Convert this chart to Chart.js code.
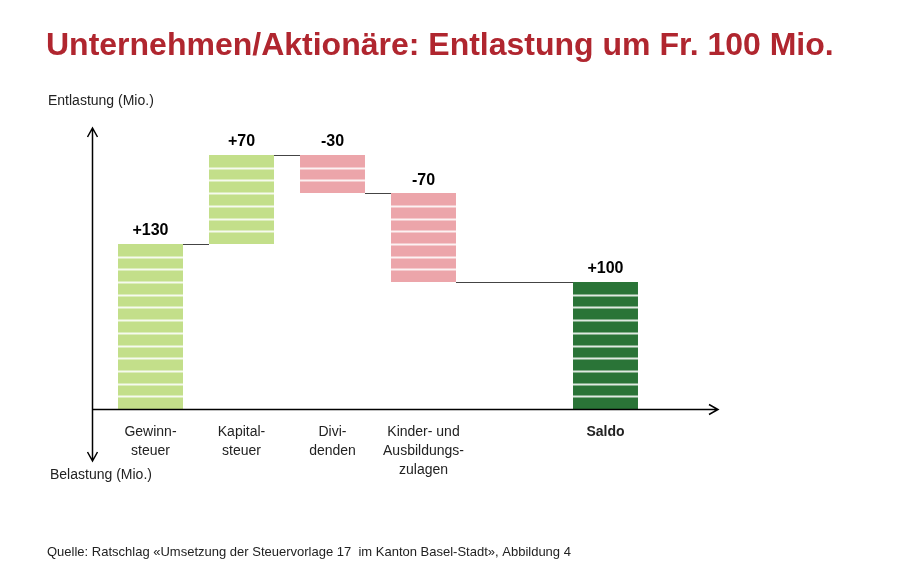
<!DOCTYPE html>
<html>
<head>
<meta charset="utf-8">
<script src="https://cdn.jsdelivr.net/npm/chart.js@4/dist/chart.umd.min.js"></script>
<style>
  html, body { margin: 0; padding: 0; background: #fff; }
  #wrap { width: 916px; height: 566px; position: relative; }
</style>
</head>
<body>
<div id="wrap"><canvas id="waterfallChart"></canvas></div>
<script>
// data
const categories = [['Gewinn-', 'steuer'], ['Kapital-', 'steuer'], ['Divi-', 'denden'], ['Kinder- und', 'Ausbildungs-', 'zulagen'], '', 'Saldo'];
const changes = [130, 70, -30, -70, null, 100];
const valueLabels = ['+130', '+70', '-30', '-70', '', '+100'];
const barColors = ['#c3df8a', '#c3df8a', '#eca5aa', '#eca5aa', null, '#2a7437'];
const stripeStep = 10;

// floating ranges built from the changes (saldo starts at 0)
const ranges = [];
let running = 0;
changes.forEach((v, i) => {
  if (v === null) { ranges.push(null); return; }
  if (categories[i] === 'Saldo') { ranges.push([0, v]); return; }
  ranges.push([running, running + v]);
  running += v;
});

const font = 'Liberation Sans, Arial, sans-serif';

const decor = {
  id: 'decor',
  afterDatasetsDraw(chart) {
    const ctx = chart.ctx;
    const y = chart.scales.y;
    const meta = chart.getDatasetMeta(0);
    const area = chart.chartArea;
    ctx.save();

    // white stripes inside the bars
    ctx.strokeStyle = 'rgba(255,255,255,0.85)';
    ctx.lineWidth = 2;
    meta.data.forEach((bar, i) => {
      const r = ranges[i];
      if (!r) return;
      const lo = Math.min(r[0], r[1]), hi = Math.max(r[0], r[1]);
      const left = bar.x - bar.width / 2, right = bar.x + bar.width / 2;
      for (let v = lo + stripeStep; v < hi; v += stripeStep) {
        const py = Math.round(y.getPixelForValue(v)) + 0.5;
        ctx.beginPath();
        ctx.moveTo(left, py);
        ctx.lineTo(right, py);
        ctx.stroke();
      }
    });

    // connector lines between the steps
    ctx.strokeStyle = '#444';
    ctx.lineWidth = 1;
    const shown = meta.data.map((b, i) => ranges[i] ? i : -1).filter(i => i >= 0);
    for (let k = 0; k < shown.length - 1; k++) {
      const a = shown[k], b = shown[k + 1];
      const level = ranges[a][1];
      const py = Math.round(y.getPixelForValue(level)) + 0.5;
      ctx.beginPath();
      ctx.moveTo(meta.data[a].x + meta.data[a].width / 2, py);
      ctx.lineTo(meta.data[b].x - meta.data[b].width / 2, py);
      ctx.stroke();
    }

    // value labels above bars
    ctx.fillStyle = '#000';
    ctx.textAlign = 'center';
    ctx.textBaseline = 'bottom';
    ctx.font = 'bold 16px ' + font;
    meta.data.forEach((bar, i) => {
      if (!ranges[i]) return;
      const top = Math.min(bar.y, bar.base);
      ctx.fillText(valueLabels[i], bar.x, top - 5);
    });

    // axes with arrows
    const zeroY = Math.round(y.getPixelForValue(0)) + 0.5;
    const axisX = area.left - 12.5;
    ctx.strokeStyle = '#000';
    ctx.lineWidth = 1.5;
    ctx.beginPath();
    ctx.moveTo(axisX, 128);
    ctx.lineTo(axisX, 461);
    ctx.moveTo(axisX, zeroY);
    ctx.lineTo(718, zeroY);
    // arrow heads
    ctx.moveTo(axisX - 5, 137); ctx.lineTo(axisX, 128); ctx.lineTo(axisX + 5, 137);
    ctx.moveTo(axisX - 5, 452); ctx.lineTo(axisX, 461); ctx.lineTo(axisX + 5, 452);
    ctx.moveTo(709, zeroY - 5); ctx.lineTo(718, zeroY); ctx.lineTo(709, zeroY + 5);
    ctx.stroke();

    // texts
    ctx.textAlign = 'left';
    ctx.textBaseline = 'middle';
    ctx.fillStyle = '#b0262f';
    ctx.font = 'bold 32px ' + font;
    ctx.fillText('Unternehmen/Aktionäre: Entlastung um Fr. 100 Mio.', 46, 46);
    ctx.fillStyle = '#222';
    ctx.font = '14px ' + font;
    ctx.fillText('Entlastung (Mio.)', 48, 101);
    ctx.fillText('Belastung (Mio.)', 50, 475);
    ctx.font = '13px ' + font;
    ctx.fillText('Quelle: Ratschlag «Umsetzung der Steuervorlage 17  im Kanton Basel-Stadt», Abbildung 4', 47, 552);
    ctx.restore();
  }
};

new Chart(document.getElementById('waterfallChart').getContext('2d'), {
  type: 'bar',
  data: {
    labels: categories,
    datasets: [{
      data: ranges,
      backgroundColor: barColors.map(c => c || 'transparent'),
      borderWidth: 0,
      categoryPercentage: 1,
      barPercentage: 0.714
    }]
  },
  options: {
    responsive: true,
    maintainAspectRatio: false,
    animation: false,
    layout: { padding: { left: 105, right: 265, top: 155, bottom: 0 } },
    plugins: {
      legend: { display: false },
      tooltip: { enabled: false }
    },
    scales: {
      x: {
        grid: { display: false },
        border: { display: false },
        afterFit: (scale) => { scale.height = 157; },
        ticks: {
          autoSkip: false,
          maxRotation: 0,
          padding: 6,
          color: '#222',
          font: (c) => ({ family: font, size: 14, lineHeight: 1.35, weight: c.index === 5 ? 'bold' : 'normal' })
        }
      },
      y: {
        display: false,
        min: 0,
        max: 200
      }
    }
  }
  ,
  plugins: [decor]
});
</script>
</body>
</html>
